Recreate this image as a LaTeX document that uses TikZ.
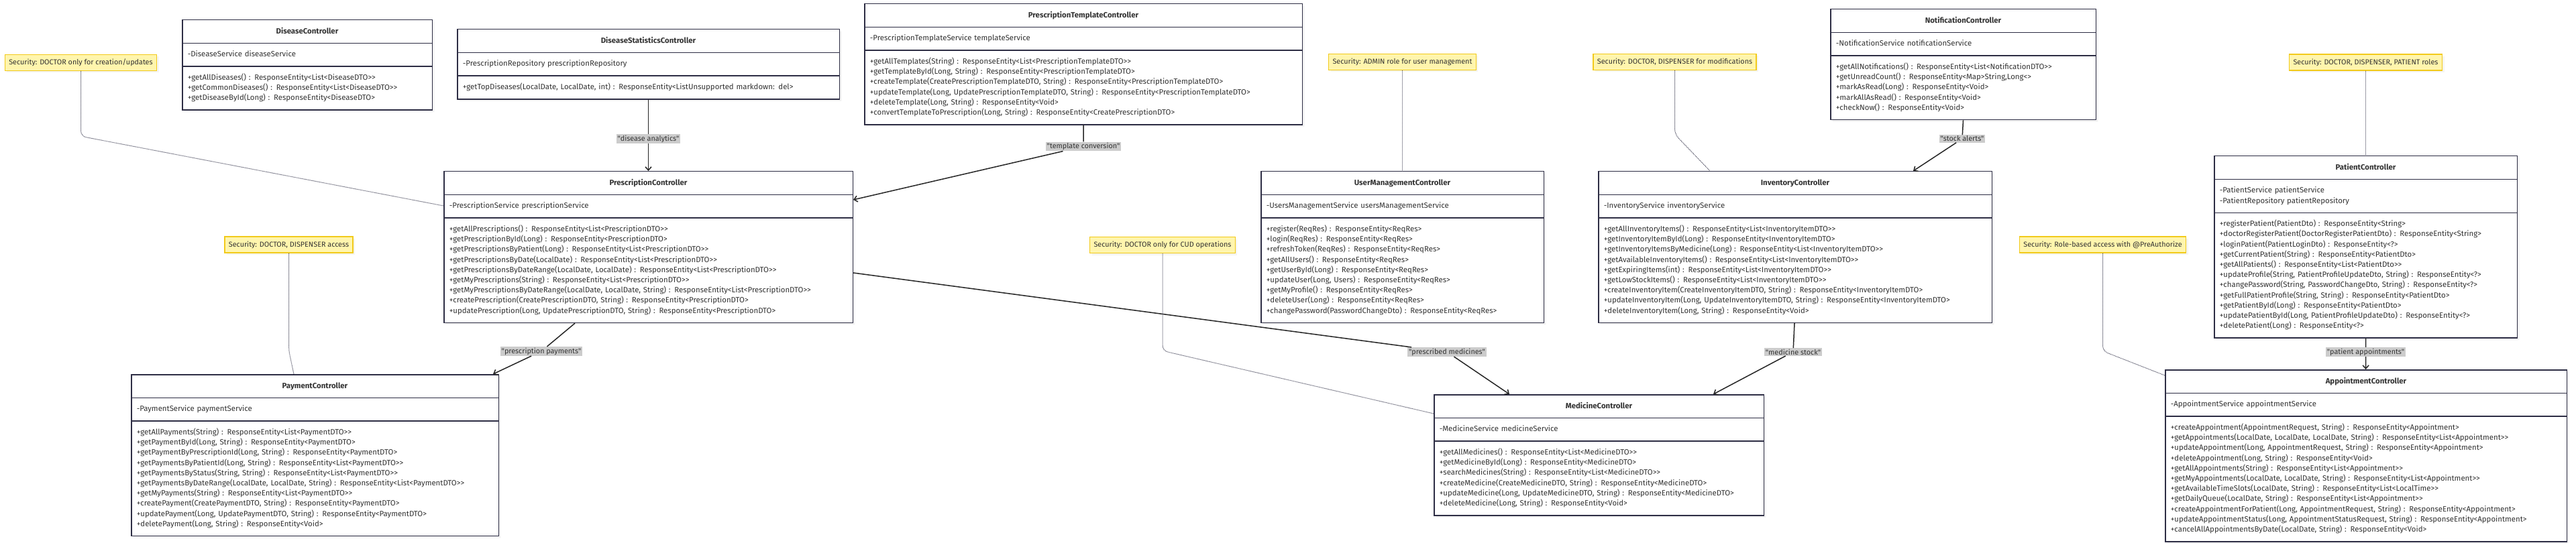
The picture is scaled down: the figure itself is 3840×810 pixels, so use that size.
\documentclass[tikz,border=0pt]{standalone}
\usepackage{fontspec}
\newfontfamily\umlfont{Fira Sans}
\usetikzlibrary{shapes.multipart,shadows,arrows.meta}
\setlength{\parindent}{0pt}
\definecolor{clsbd}{HTML}{2D2D44}
\definecolor{clstxt}{HTML}{333333}
\definecolor{notefill}{HTML}{FFF5AD}
\definecolor{notebd}{HTML}{F2CA1B}
\definecolor{lblfill}{HTML}{CCCCCC}
\newcommand{\clstitle}[1]{\strut\makebox[\hsize]{\textbf{#1}}}
\begin{document}
\begin{tikzpicture}[x=1pt,y=-1pt,
  cls/.style={rectangle split, rectangle split parts=3, anchor=north west, draw=clsbd, line width=1.5pt, fill=white,
    inner xsep=8pt, inner ysep=9pt, align=left, text=clstxt, font=\umlfont\fontsize{11.4}{15.2}\selectfont,
    drop shadow={shadow xshift=3pt, shadow yshift=-3pt, opacity=0.1}},
  note/.style={draw=notebd, fill=notefill, line width=1.5pt, inner xsep=6pt, inner ysep=0pt, minimum height=24pt,
    text=clstxt, font=\umlfont\fontsize{10.8}{13}\selectfont, drop shadow={shadow xshift=3pt, shadow yshift=-3pt, opacity=0.08}},
  lbl/.style={fill=lblfill, text=clstxt, inner xsep=2pt, inner ysep=1.5pt, font=\umlfont\fontsize{10.8}{13}\selectfont},
  rel/.style={draw=black!85, line width=1.5pt, -{Straight Barb[length=5pt,width=9pt]}},
  notelink/.style={draw=clsbd!90, line width=1pt, dash pattern=on 1pt off 1pt, rounded corners=8pt}]
\path[use as bounding box, fill=white] (0,0) rectangle (3840,810);

\node[cls, text width=356.5pt] (dis) at (271,29) {\clstitle{DiseaseController}
  \nodepart{two}\strut -DiseaseService diseaseService
  \nodepart{three}\strut +getAllDiseases() : ResponseEntity<List<DiseaseDTO>>\\
  \strut +getCommonDiseases() : ResponseEntity<List<DiseaseDTO>>\\
  \strut +getDiseaseById(Long) : ResponseEntity<DiseaseDTO>};
\node[cls, text width=553.5pt] (stats) at (681,43) {\clstitle{DiseaseStatisticsController}
  \nodepart{two}\strut -PrescriptionRepository prescriptionRepository
  \nodepart{three}\strut +getTopDiseases(LocalDate, LocalDate, int) : ResponseEntity<ListUnsupported markdown: del>};
\node[cls, text width=636.5pt] (tpl) at (1288,5) {\clstitle{PrescriptionTemplateController}
  \nodepart{two}\strut -PrescriptionTemplateService templateService
  \nodepart{three}\strut +getAllTemplates(String) : ResponseEntity<List<PrescriptionTemplateDTO>>\\
  \strut +getTemplateById(Long, String) : ResponseEntity<PrescriptionTemplateDTO>\\
  \strut +createTemplate(CreatePrescriptionTemplateDTO, String) : ResponseEntity<PrescriptionTemplateDTO>\\
  \strut +updateTemplate(Long, UpdatePrescriptionTemplateDTO, String) : ResponseEntity<PrescriptionTemplateDTO>\\
  \strut +deleteTemplate(Long, String) : ResponseEntity<Void>\\
  \strut +convertTemplateToPrescription(Long, String) : ResponseEntity<CreatePrescriptionDTO>};
\node[cls, text width=379.5pt] (notif) at (2728,13) {\clstitle{NotificationController}
  \nodepart{two}\strut -NotificationService notificationService
  \nodepart{three}\strut +getAllNotifications() : ResponseEntity<List<NotificationDTO>>\\
  \strut +getUnreadCount() : ResponseEntity<Map>String,Long<>\\
  \strut +markAsRead(Long) : ResponseEntity<Void>\\
  \strut +markAllAsRead() : ResponseEntity<Void>\\
  \strut +checkNow() : ResponseEntity<Void>};
\node[cls, text width=593.5pt] (presc) at (661,255) {\clstitle{PrescriptionController}
  \nodepart{two}\strut -PrescriptionService prescriptionService
  \nodepart{three}\strut +getAllPrescriptions() : ResponseEntity<List<PrescriptionDTO>>\\
  \strut +getPrescriptionById(Long) : ResponseEntity<PrescriptionDTO>\\
  \strut +getPrescriptionsByPatient(Long) : ResponseEntity<List<PrescriptionDTO>>\\
  \strut +getPrescriptionsByDate(LocalDate) : ResponseEntity<List<PrescriptionDTO>>\\
  \strut +getPrescriptionsByDateRange(LocalDate, LocalDate) : ResponseEntity<List<PrescriptionDTO>>\\
  \strut +getMyPrescriptions(String) : ResponseEntity<List<PrescriptionDTO>>\\
  \strut +getMyPrescriptionsByDateRange(LocalDate, LocalDate, String) : ResponseEntity<List<PrescriptionDTO>>\\
  \strut +createPrescription(CreatePrescriptionDTO, String) : ResponseEntity<PrescriptionDTO>\\
  \strut +updatePrescription(Long, UpdatePrescriptionDTO, String) : ResponseEntity<PrescriptionDTO>};
\node[cls, text width=405.5pt] (users) at (1879,255) {\clstitle{UserManagementController}
  \nodepart{two}\strut -UsersManagementService usersManagementService
  \nodepart{three}\strut +register(ReqRes) : ResponseEntity<ReqRes>\\
  \strut +login(ReqRes) : ResponseEntity<ReqRes>\\
  \strut +refreshToken(ReqRes) : ResponseEntity<ReqRes>\\
  \strut +getAllUsers() : ResponseEntity<ReqRes>\\
  \strut +getUserById(Long) : ResponseEntity<ReqRes>\\
  \strut +updateUser(Long, Users) : ResponseEntity<ReqRes>\\
  \strut +getMyProfile() : ResponseEntity<ReqRes>\\
  \strut +deleteUser(Long) : ResponseEntity<ReqRes>\\
  \strut +changePassword(PasswordChangeDto) : ResponseEntity<ReqRes>};
\node[cls, text width=570.5pt] (inv) at (2382,255) {\clstitle{InventoryController}
  \nodepart{two}\strut -InventoryService inventoryService
  \nodepart{three}\strut +getAllInventoryItems() : ResponseEntity<List<InventoryItemDTO>>\\
  \strut +getInventoryItemById(Long) : ResponseEntity<InventoryItemDTO>\\
  \strut +getInventoryItemsByMedicine(Long) : ResponseEntity<List<InventoryItemDTO>>\\
  \strut +getAvailableInventoryItems() : ResponseEntity<List<InventoryItemDTO>>\\
  \strut +getExpiringItems(int) : ResponseEntity<List<InventoryItemDTO>>\\
  \strut +getLowStockItems() : ResponseEntity<List<InventoryItemDTO>>\\
  \strut +createInventoryItem(CreateInventoryItemDTO, String) : ResponseEntity<InventoryItemDTO>\\
  \strut +updateInventoryItem(Long, UpdateInventoryItemDTO, String) : ResponseEntity<InventoryItemDTO>\\
  \strut +deleteInventoryItem(Long, String) : ResponseEntity<Void>};
\node[cls, text width=435.5pt] (patient) at (3300,232) {\clstitle{PatientController}
  \nodepart{two}\strut -PatientService patientService\\
  \strut -PatientRepository patientRepository
  \nodepart{three}\strut +registerPatient(PatientDto) : ResponseEntity<String>\\
  \strut +doctorRegisterPatient(DoctorRegisterPatientDto) : ResponseEntity<String>\\
  \strut +loginPatient(PatientLoginDto) : ResponseEntity<?>\\
  \strut +getCurrentPatient(String) : ResponseEntity<PatientDto>\\
  \strut +getAllPatients() : ResponseEntity<List<PatientDto>>\\
  \strut +updateProfile(String, PatientProfileUpdateDto, String) : ResponseEntity<?>\\
  \strut +changePassword(String, PasswordChangeDto, String) : ResponseEntity<?>\\
  \strut +getFullPatientProfile(String, String) : ResponseEntity<PatientDto>\\
  \strut +getPatientById(Long) : ResponseEntity<PatientDto>\\
  \strut +updatePatientById(Long, PatientProfileUpdateDto) : ResponseEntity<?>\\
  \strut +deletePatient(Long) : ResponseEntity<?>};
\node[cls, text width=531.5pt] (pay) at (195,558) {\clstitle{PaymentController}
  \nodepart{two}\strut -PaymentService paymentService
  \nodepart{three}\strut +getAllPayments(String) : ResponseEntity<List<PaymentDTO>>\\
  \strut +getPaymentById(Long, String) : ResponseEntity<PaymentDTO>\\
  \strut +getPaymentByPrescriptionId(Long, String) : ResponseEntity<PaymentDTO>\\
  \strut +getPaymentsByPatientId(Long, String) : ResponseEntity<List<PaymentDTO>>\\
  \strut +getPaymentsByStatus(String, String) : ResponseEntity<List<PaymentDTO>>\\
  \strut +getPaymentsByDateRange(LocalDate, LocalDate, String) : ResponseEntity<List<PaymentDTO>>\\
  \strut +getMyPayments(String) : ResponseEntity<List<PaymentDTO>>\\
  \strut +createPayment(CreatePaymentDTO, String) : ResponseEntity<PaymentDTO>\\
  \strut +updatePayment(Long, UpdatePaymentDTO, String) : ResponseEntity<PaymentDTO>\\
  \strut +deletePayment(Long, String) : ResponseEntity<Void>};
\node[cls, text width=475.5pt] (med) at (2137,588) {\clstitle{MedicineController}
  \nodepart{two}\strut -MedicineService medicineService
  \nodepart{three}\strut +getAllMedicines() : ResponseEntity<List<MedicineDTO>>\\
  \strut +getMedicineById(Long) : ResponseEntity<MedicineDTO>\\
  \strut +searchMedicines(String) : ResponseEntity<List<MedicineDTO>>\\
  \strut +createMedicine(CreateMedicineDTO, String) : ResponseEntity<MedicineDTO>\\
  \strut +updateMedicine(Long, UpdateMedicineDTO, String) : ResponseEntity<MedicineDTO>\\
  \strut +deleteMedicine(Long, String) : ResponseEntity<Void>};
\node[cls, text width=582.5pt] (appt) at (3227,551) {\clstitle{AppointmentController}
  \nodepart{two}\strut -AppointmentService appointmentService
  \nodepart{three}\strut +createAppointment(AppointmentRequest, String) : ResponseEntity<Appointment>\\
  \strut +getAppointments(LocalDate, LocalDate, LocalDate, String) : ResponseEntity<List<Appointment>>\\
  \strut +updateAppointment(Long, AppointmentRequest, String) : ResponseEntity<Appointment>\\
  \strut +deleteAppointment(Long, String) : ResponseEntity<Void>\\
  \strut +getAllAppointments(String) : ResponseEntity<List<Appointment>>\\
  \strut +getMyAppointments(LocalDate, LocalDate, String) : ResponseEntity<List<Appointment>>\\
  \strut +getAvailableTimeSlots(LocalDate, String) : ResponseEntity<List<LocalTime>>\\
  \strut +getDailyQueue(LocalDate, String) : ResponseEntity<List<Appointment>>\\
  \strut +createAppointmentForPatient(Long, AppointmentRequest, String) : ResponseEntity<Appointment>\\
  \strut +updateAppointmentStatus(Long, AppointmentStatusRequest, String) : ResponseEntity<Appointment>\\
  \strut +cancelAllAppointmentsByDate(LocalDate, String) : ResponseEntity<Void>};

\node[note] (nCreate) at (120.5,93.5) {Security: DOCTOR only for creation/updates};
\node[note] (nAdmin) at (2090.5,92.5) {Security: ADMIN role for user management};
\node[note] (nModify) at (2496.5,92.5) {Security: DOCTOR, DISPENSER for modifications};
\node[note] (nPatient) at (3526.5,93) {Security: DOCTOR, DISPENSER, PATIENT roles};
\node[note] (nPay) at (430.5,365) {Security: DOCTOR, DISPENSER access};
\node[note] (nCud) at (1733,365.5) {Security: DOCTOR only for CUD operations};
\node[note] (nRole) at (3134.5,365) {Security: Role-based access with @PreAuthorize};

\node[lbl] (lDisease) at (966.5,207) {"disease analytics"};
\node[lbl] (lTemplate) at (1615,218.5) {"template conversion"};
\node[lbl] (lPayment) at (807,524) {"prescription payments"};
\node[lbl] (lMedicine) at (2157,525) {"prescribed medicines"};
\node[lbl] (lStock) at (2673,525) {"medicine stock"};
\node[lbl] (lAlert) at (2925,207) {"stock alerts"};
\node[lbl] (lAppt) at (3526.5,525) {"patient appointments"};

\draw[rel] (stats) -- (lDisease) -- (presc);
\draw[rel] (tpl.south) -- (lTemplate) -- ([yshift=-43pt]presc.north east);
\draw[rel] ([xshift=196pt]presc.south west) -- (lPayment) -- ([xshift=-9pt]pay.north east);
\draw[rel] ([yshift=-152pt]presc.north east) -- (lMedicine) -- ([xshift=113pt]med.north west);
\draw[rel] ([xshift=293pt]inv.south west) -- (lStock) -- ([xshift=417pt]med.north west);
\draw[rel] (notif.south) -- (lAlert) -- ([xshift=470pt]inv.north west);
\draw[rel] (patient) -- (lAppt) -- (appt);

\draw[notelink] (nCreate.south) -- ++(0,97) -- ([yshift=-52pt]presc.north west);
\draw[notelink] (nAdmin) -- (users);
\draw[notelink] (nModify.south) -- ++(0,95) -- ([xshift=167pt]inv.north west);
\draw[notelink] (nPatient) -- (patient);
\draw[notelink] (nPay.south) -- ++(0,145) -- ([xshift=243pt]pay.north west);
\draw[notelink] (nCud.south) -- ++(0,145) -- ([yshift=-29pt]med.north west);
\draw[notelink] (nRole.south) -- ++(0,146) -- ([yshift=-9pt]appt.north west);
\end{tikzpicture}
\end{document}
